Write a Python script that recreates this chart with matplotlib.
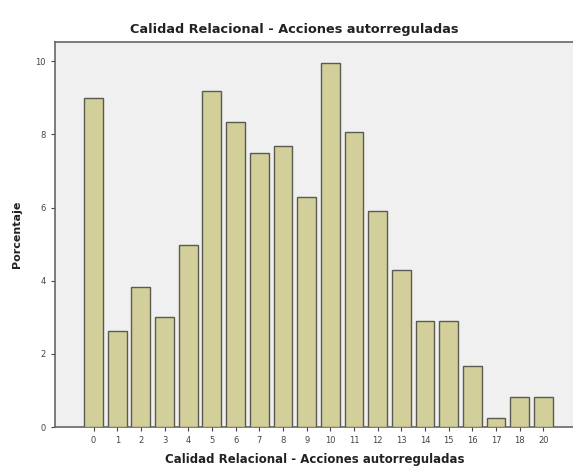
import matplotlib
matplotlib.use("Agg")
import matplotlib.pyplot as plt
import numpy as np

categories = ["0", "1", "2", "3", "4", "5", "6", "7", "8", "9", "10",
              "11", "12", "13", "14", "15", "16", "17", "18", "20"]
percentages = [9.0, 2.63, 3.83, 3.0, 4.97, 9.2, 8.34, 7.49, 7.69, 6.29, 9.95,
               8.07, 5.91, 4.29, 2.9, 2.9, 1.67, 0.25, 0.83, 0.83]
y_ticks = [0, 2, 4, 6, 8, 10]

fig = plt.figure(figsize=(5.73, 4.75), dpi=100)
ax = fig.add_axes([0.096, 0.101, 0.906, 0.81])
ax.set_facecolor("#F0F0F0")

x = np.arange(len(categories))
ax.bar(x, percentages, width=0.8, color="#D3CF9B", edgecolor="#5A5A50", linewidth=1.0, zorder=3)

ax.set_xlim(-1.63, 20.3)
ax.set_ylim(0, 10.52)
ax.set_xticks(x)
ax.set_xticklabels(categories)
ax.set_yticks(y_ticks)
ax.tick_params(axis="both", labelsize=6, colors="#444444", length=3, width=0.8, direction="out")
for s in ax.spines.values():
    s.set_color("#666666")
    s.set_linewidth(1.2)

ax.set_title("Calidad Relacional - Acciones autorreguladas", fontsize=9.3, fontweight="bold",
             pad=7, color="#222222", x=0.461)
ax.set_xlabel("Calidad Relacional - Acciones autorreguladas", fontsize=8.5, fontweight="bold", color="#222222", labelpad=6)
ax.set_ylabel("Porcentaje", fontsize=8, fontweight="bold", color="#222222", labelpad=10)

fig.savefig("out.png", dpi=100)
